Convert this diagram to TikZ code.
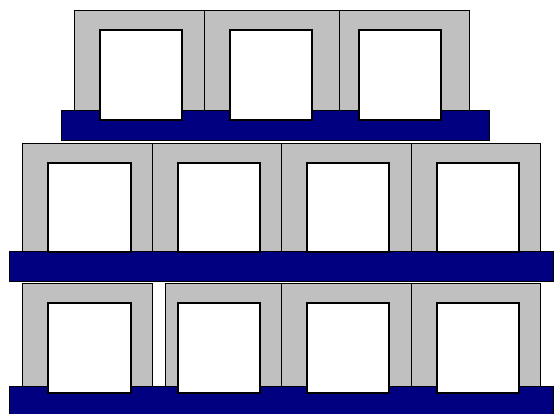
\documentclass[tikz,border=0pt]{standalone}
\definecolor{shelfblue}{RGB}{0,0,128}
\definecolor{framegray}{RGB}{192,192,192}
\tikzset{
  shelf/.style={draw=black,fill=shelfblue,line width=1pt},
  frame/.style={draw=black,fill=framegray,line width=1pt},
  hole/.style={draw=black,fill=white,line width=1.2pt}
}
\begin{document}
\begin{tikzpicture}[x=1pt,y=-1pt]
\useasboundingbox (0,0) rectangle (555,414);
\clip (0,0) rectangle (555,414);

% top layer
\draw[shelf] (61,111) rectangle (489,141);
\draw[frame] (74,11) rectangle (204,111);
\draw[frame] (204,11) rectangle (339,111);
\draw[frame] (339,11) rectangle (469,111);
\draw[hole] (100,30) rectangle (182,120);
\draw[hole] (230,30) rectangle (312,120);
\draw[hole] (359,30) rectangle (441,120);

% middle layer
\draw[shelf] (9,252) rectangle (553,282);
\draw[frame] (22,144) rectangle (152,252);
\draw[frame] (152,144) rectangle (281,252);
\draw[frame] (281,144) rectangle (411,252);
\draw[frame] (411,144) rectangle (540,252);
\draw[hole] (48,163) rectangle (131,252);
\draw[hole] (178,163) rectangle (260,252);
\draw[hole] (307,163) rectangle (389,252);
\draw[hole] (437,163) rectangle (519,252);

% bottom layer
\draw[shelf] (9,387) rectangle (553,420);
\draw[frame] (22,284) rectangle (152,387);
\draw[frame] (165,284) rectangle (281,387);
\draw[frame] (281,284) rectangle (411,387);
\draw[frame] (411,284) rectangle (540,387);
\draw[hole] (48,303) rectangle (131,393);
\draw[hole] (178,303) rectangle (260,393);
\draw[hole] (307,303) rectangle (389,393);
\draw[hole] (437,303) rectangle (519,393);
\end{tikzpicture}
\end{document}
